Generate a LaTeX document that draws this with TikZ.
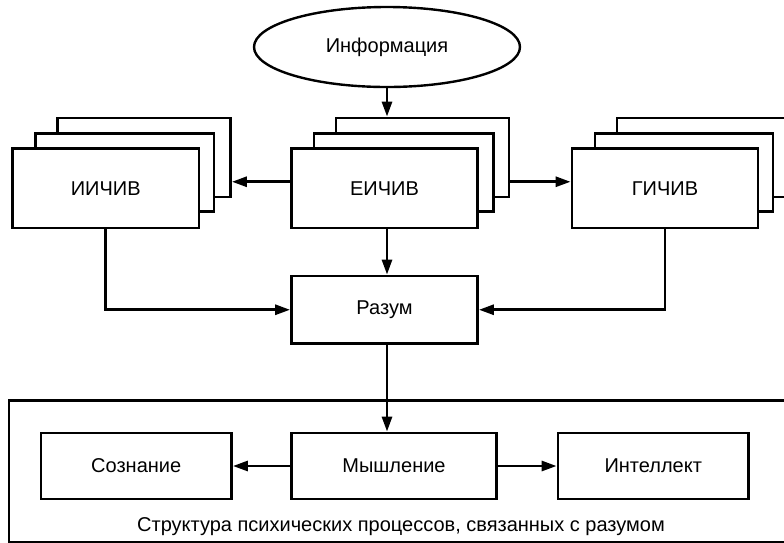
\documentclass[tikz,border=0pt]{standalone}
\usepackage{fontspec}
\setmainfont{Liberation Sans}
\usetikzlibrary{arrows.meta,shapes.geometric,calc}
\begin{document}
\begin{tikzpicture}[x=1pt,y=-1pt,
  lw/.style={line width=2.8pt},
  box/.style={draw, lw, fill=white, inner sep=0pt, font=\fontsize{20}{24}\selectfont},
  stackbox/.style={box, minimum width=#1, minimum height=79pt},
  arr/.style={lw, -{Triangle[length=15pt,width=10pt]}},
  txt/.style={font=\fontsize{20}{24}\selectfont, inner sep=0pt}
]
\useasboundingbox (0,0) rectangle (784,542);
\clip (0,0) rectangle (784,542);

% outer frame
\node[draw, lw, minimum width=791pt, minimum height=142pt, inner sep=0pt] (frame) at (404.5,471.5) {};

% ellipse
\node[draw, ellipse, line width=2.4pt, minimum width=266pt, minimum height=80pt, inner sep=0pt,
      font=\fontsize{20}{24}\selectfont] (inf) at (387,47) {Информация};

% ИИЧИВ stack
\node[stackbox=173pt] (ib) at (144,157.5) {};
\node[stackbox=178.5pt, minimum height=78pt] (im) at (124.75,172.5) {};
\node[stackbox=186.5pt, minimum height=79.5pt] (i) at (105.75,188.25) {ИИЧИВ};

% ЕИЧИВ stack
\node[stackbox=173pt] (eb) at (422.5,157.5) {};
\node[stackbox=179.5pt, minimum height=78pt] (em) at (403.75,172.5) {};
\node[stackbox=186pt, minimum height=79.5pt] (e) at (384.5,188.25) {ЕИЧИВ};

% ГИЧИВ stack
\node[stackbox=173pt] (gb) at (703.5,157.5) {};
\node[stackbox=178pt, minimum height=78pt] (gm) at (684,172.5) {};
\node[stackbox=186pt, minimum height=79.5pt] (g) at (665,188.25) {ГИЧИВ};

% Разум
\node[box, minimum width=186pt, minimum height=67.5pt] (r) at (384.5,309.75) {Разум};

% bottom boxes
\node[box, minimum width=190.5pt, minimum height=66pt] (s) at (136.25,466) {Сознание};
\node[box, minimum width=205pt, minimum height=66pt] (m) at (394,466) {Мышление};
\node[box, minimum width=190.5pt, minimum height=66pt] (n) at (653.25,466) {Интеллект};

\node[txt] (cap) at (401,526.5) {Структура психических процессов, связанных с разумом};

% connectors
\draw[arr] (inf.south) -- (inf.south |- eb.north);
\draw[arr] ([yshift=6.5pt]e.west) -- ([yshift=6.5pt]e.west -| ib.east);
\draw[arr] ([yshift=6.5pt]e.west -| eb.east) -- ([yshift=6.5pt]e.west -| g.west);
\draw[arr] (e.south -| inf.south) -- (r.north -| inf.south);
\draw[arr] (i.south) |- (r.west);
\draw[arr] (g.south) |- (r.east);
\draw[arr] (r.south -| inf.south) -- (m.north -| inf.south);
\draw[arr] (m.west) -- (s.east);
\draw[arr] (m.east) -- (n.west);
\end{tikzpicture}
\end{document}
